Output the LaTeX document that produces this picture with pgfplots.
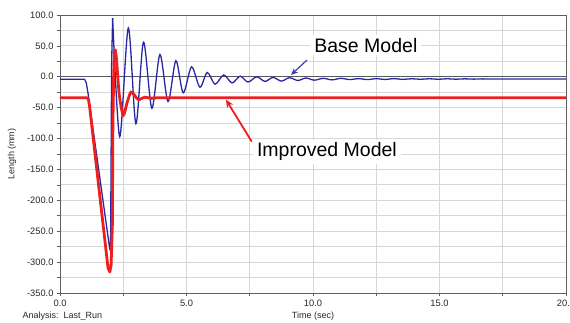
\documentclass[border=0pt]{standalone}
\usepackage{pgfplots}
\pgfplotsset{compat=1.18}
\usepackage{fontspec}
\setmainfont{Liberation Sans}
\usetikzlibrary{arrows.meta}
\definecolor{bmblue}{RGB}{40,40,165}
\definecolor{imred}{RGB}{238,30,30}
\definecolor{gridc}{RGB}{215,215,215}
\definecolor{axc}{RGB}{95,95,95}
\begin{document}
\begin{tikzpicture}
\useasboundingbox (-60pt,-29pt) rectangle (510pt,293pt);
\begin{axis}[
  at={(0pt,0pt)}, anchor=south west,
  scale only axis, width=506pt, height=278pt,
  xmin=0, xmax=20, ymin=-350, ymax=100,
  xtick={0,5,10,15,20}, xticklabels={0.0,5.0,10.0,15.0,20.0},
  minor xtick={2.5,7.5,12.5,17.5},
  ytick={-350,-300,-250,-200,-150,-100,-50,0,50,100},
  yticklabels={-350.0,-300.0,-250.0,-200.0,-150.0,-100.0,-50.0,0.0,50.0,100.0},
  minor ytick={-325,-275,-225,-175,-125,-75,-25,25,75},
  tick pos=left, tick align=outside,
  major tick length=3pt, minor tick length=3pt,
  tick style={axc, line width=0.6pt},
  grid=both,
  major grid style={gridc, line width=0.8pt},
  minor grid style={gridc, line width=0.8pt},
  axis line style={axc, line width=0.9pt},
  ticklabel style={font=\fontsize{9.3}{10}\selectfont, text=black!85},
  clip=true,
]
\addplot[black!65, line width=0.8pt] coordinates {(0,0) (20,0)};
% Base model: sharp part
\addplot[bmblue, line width=1.3pt] coordinates {
(0,-4) (0.97,-4) (1.04,-10) (1.11,-27) (1.96,-277) (2.0,-272) (2.04,20) (2.08,95)};
% Base model: oscillation
\addplot[bmblue, line width=1.3pt, smooth] coordinates {
(2.08,95) (2.36,-97) (2.7,79) (3.0,-76) (3.3,56) (3.63,-51) (3.95,36) (4.27,-40)
(4.58,26) (4.87,-26) (5.2,16) (5.53,-17) (5.82,7) (6.13,-12) (6.47,3) (6.8,-10)
(7.12,1) (7.43,-8.5) (7.78,0) (8.1,-7.5) (8.42,-1) (8.75,-7) (9.07,-1.5) (9.4,-6)
(9.72,-2) (10.05,-5.5) (10.4,-2.5) (10.75,-5) (11.1,-2.5) (11.45,-4.5) (11.8,-3)
(12.15,-4.5) (12.5,-3) (12.85,-4.3) (13.2,-3) (13.55,-4.2) (13.9,-3.2) (14.25,-4)
(14.6,-3.2) (14.95,-4) (15.3,-3.2) (15.65,-3.9) (16.0,-3.3) (16.35,-3.8) (16.7,-3.4)
(17.2,-3.6) (20,-3.6)};
% Improved model: sharp part
\addplot[imred, line width=2.8pt, line join=round] coordinates {
(0,-34) (1.08,-34) (1.13,-38) (1.17,-48) (1.9,-310) (1.97,-316) (2.02,-305)
(2.07,-240) (2.09,-80) (2.12,0) (2.15,38) (2.17,45)};
% Improved model: settling
\addplot[imred, line width=2.8pt, smooth] coordinates {
(2.17,45) (2.23,30) (2.34,-28) (2.5,-62) (2.65,-42) (2.8,-25) (2.95,-30)
(3.1,-37) (3.35,-33) (3.6,-35) (4.0,-34) (8,-34) (20,-34)};
% annotations
\draw[bmblue!90, line width=1.2pt, -{Stealth[length=7pt,width=6pt]}]
  (axis cs:9.76,27) -- (axis cs:9.13,3);
\draw[imred, line width=1.8pt, -{Stealth[length=8pt,width=7pt]}]
  (axis cs:7.58,-105) -- (axis cs:6.56,-37);
\node[fill=white, inner xsep=4pt, inner ysep=3pt, font=\fontsize{19.5}{22}\selectfont]
  at (axis cs:12.09,51) {Base Model};
\node[fill=white, inner xsep=4pt, inner ysep=3pt, font=\fontsize{19.5}{22}\selectfont]
  at (axis cs:10.55,-121.5) {Improved Model};
\end{axis}
\node[rotate=90, font=\fontsize{9}{10}\selectfont, text=black!85] at (-48pt,139pt) {Length (mm)};
\node[font=\fontsize{9}{10}\selectfont, text=black!85] at (253pt,-23pt) {Time (sec)};
\node[font=\fontsize{9}{10}\selectfont, text=black!85, anchor=west] at (-41pt,-23pt) {Analysis:\ \ Last\_Run};
\end{tikzpicture}
\end{document}
